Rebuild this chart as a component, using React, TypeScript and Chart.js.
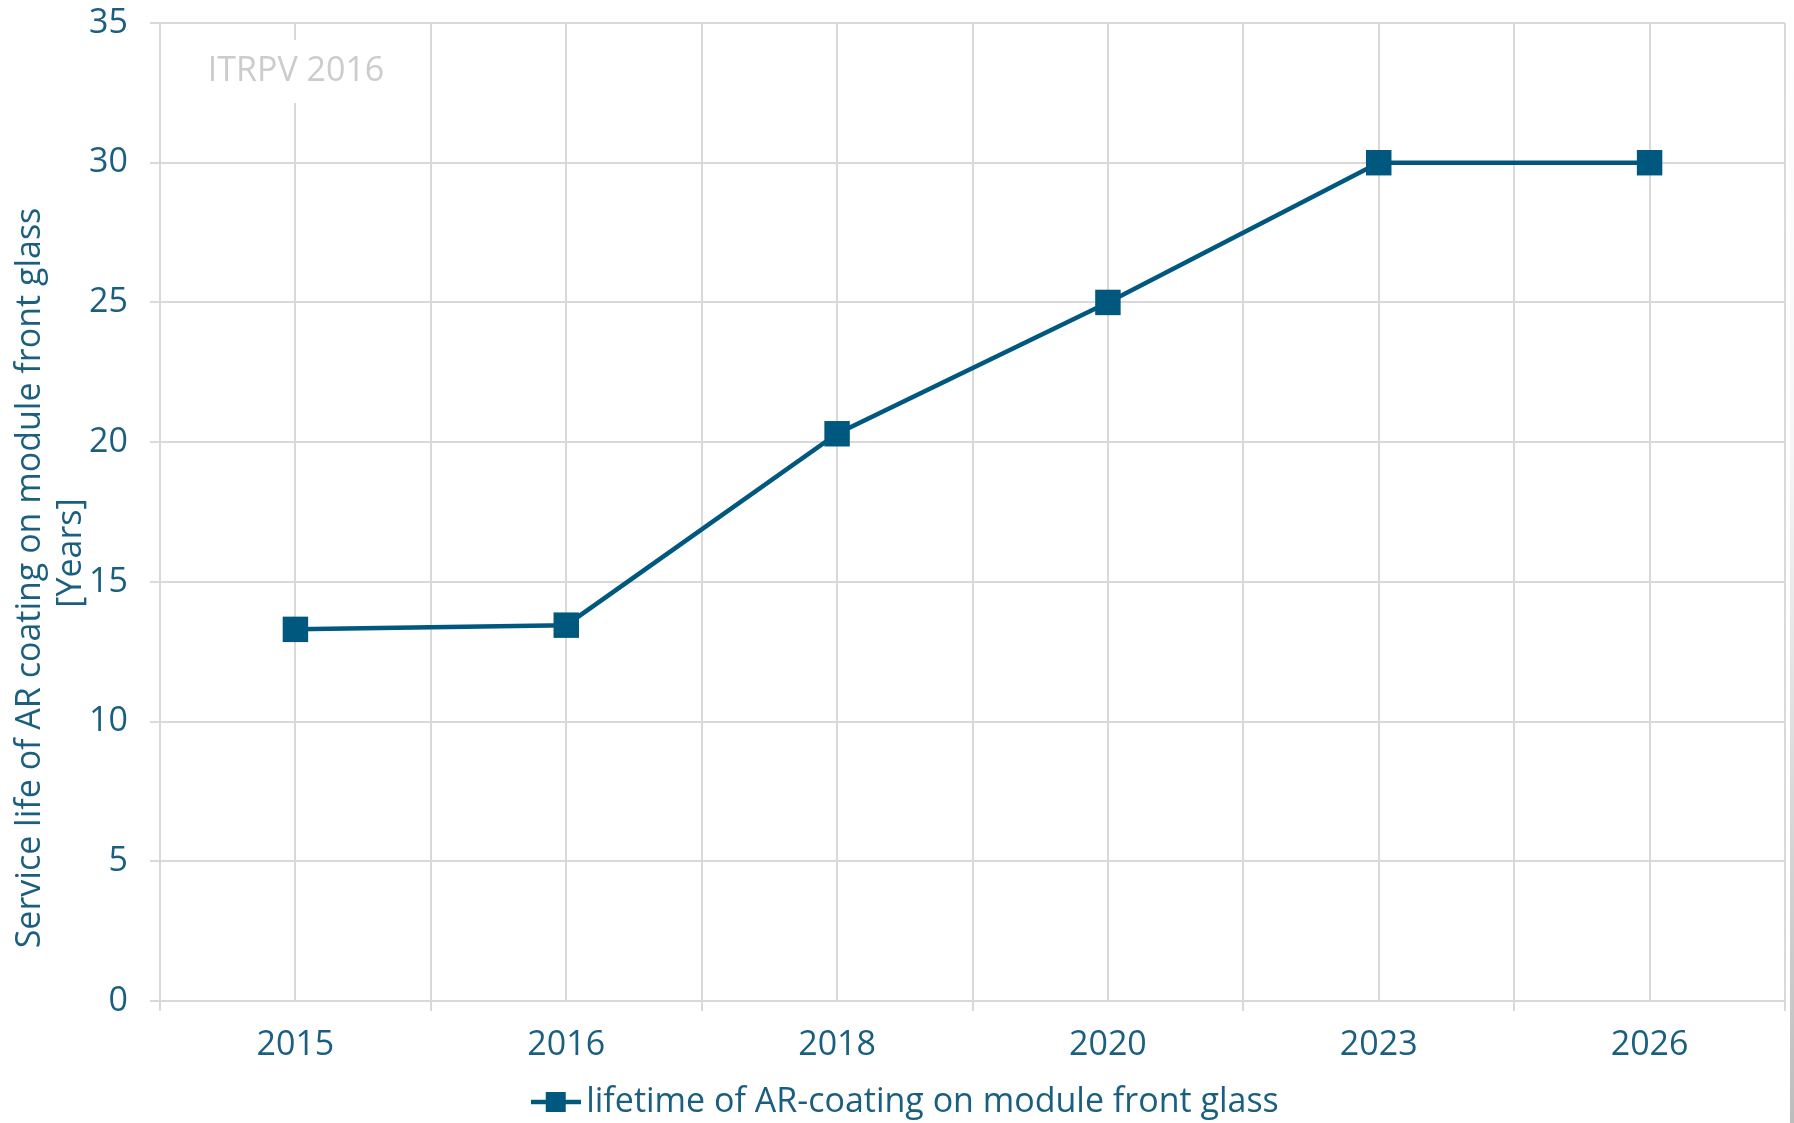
import React, { useEffect, useRef } from "react";
import { Chart, registerables } from "chart.js";

Chart.register(...registerables);

const categories: string[] = ["2015", "2016", "2018", "2020", "2023", "2026"];
const lifetimeValues: number[] = [13.3, 13.45, 20.3, 25.0, 30.0, 30.0];
const seriesLabel = "lifetime of AR-coating on module front glass";
const yTitleLines: string[] = ["Service life of AR coating on module front glass", "[Years]"];
const watermarkText = "ITRPV 2016";

const FONT = "'Open Sans', 'Noto Sans', sans-serif";
const TEXT_COLOR = "#1a5f80";
const LINE_COLOR = "#00587f";
const GRID_COLOR = "#d9d9d9";

const CANVAS_W = 1803;
const CANVAS_H = 1129;

function makeLegendIcon(): HTMLCanvasElement {
  const c = document.createElement("canvas");
  c.width = 50;
  c.height = 22;
  const g = c.getContext("2d")!;
  g.strokeStyle = LINE_COLOR;
  g.lineWidth = 4.5;
  g.beginPath();
  g.moveTo(0, 11);
  g.lineTo(50, 11);
  g.stroke();
  g.fillStyle = LINE_COLOR;
  g.fillRect(15, 1, 20, 20);
  return c;
}

const overlayPlugin = {
  id: "overlayTexts",
  beforeDatasetsDraw(chart: any) {
    const ctx = chart.ctx as CanvasRenderingContext2D;
    ctx.save();
    ctx.font = `34px ${FONT}`;
    const w = ctx.measureText(watermarkText).width;
    const cx = 296;
    const cy = 71;
    ctx.fillStyle = "#ffffff";
    ctx.fillRect(cx - w / 2 - 4, 40, w + 8, 63);
    ctx.fillStyle = "#cccccc";
    ctx.textAlign = "center";
    ctx.textBaseline = "middle";
    ctx.fillText(watermarkText, cx, cy);
    ctx.restore();
  },
  afterDraw(chart: any) {
    const ctx = chart.ctx as CanvasRenderingContext2D;
    ctx.save();
    ctx.font = `34px ${FONT}`;
    ctx.fillStyle = TEXT_COLOR;
    ctx.textAlign = "center";
    ctx.textBaseline = "middle";
    const pos = [
      { x: 30, y: 578 },
      { x: 71, y: 553 },
    ];
    yTitleLines.forEach((t, i) => {
      ctx.save();
      ctx.translate(pos[i].x, pos[i].y);
      ctx.rotate(-Math.PI / 2);
      ctx.fillText(t, 0, 0);
      ctx.restore();
    });
    ctx.restore();
  },
};

export default function App() {
  const ref = useRef<HTMLCanvasElement | null>(null);

  useEffect(() => {
    if (!ref.current) return;
    const chart = new Chart(ref.current, {
      type: "line",
      data: {
        datasets: [
          {
            label: seriesLabel,
            data: lifetimeValues.map((v, i) => ({ x: i, y: v })),
            borderColor: LINE_COLOR,
            backgroundColor: LINE_COLOR,
            borderWidth: 4.5,
            pointStyle: "rect",
            pointRadius: 18,
            pointHoverRadius: 18,
            pointBackgroundColor: LINE_COLOR,
            pointBorderWidth: 0,
            tension: 0,
          },
        ],
      },
      options: {
        animation: false,
        responsive: false,
        maintainAspectRatio: false,
        devicePixelRatio: 1,
        layout: { padding: { left: 18, right: 0, top: 23, bottom: 0 } },
        plugins: {
          tooltip: { enabled: false },
          legend: {
            position: "bottom",
            labels: {
              usePointStyle: true,
              pointStyle: makeLegendIcon() as any,
              pointStyleWidth: 27,
              padding: 4,
              color: TEXT_COLOR,
              font: { family: FONT, size: 34 },
            },
          },
        },
        scales: {
          x: {
            type: "linear",
            min: -0.5,
            max: 5.5,
            afterFit: (s: any) => {
              s.height = 80;
              s.paddingLeft = 0;
              s.paddingRight = 0;
            },
            ticks: {
              stepSize: 0.5,
              autoSkip: false,
              maxRotation: 0,
              padding: 14,
              color: TEXT_COLOR,
              font: { family: FONT, size: 34 },
              callback: (v: any) => {
                const n = Number(v);
                return Number.isInteger(n) ? categories[n] ?? "" : "";
              },
            },
            grid: {
              color: GRID_COLOR,
              lineWidth: 2,
              tickLength: 10,
              tickColor: (c: any) =>
                c.tick && !Number.isInteger(Number(c.tick.value)) ? GRID_COLOR : "rgba(0,0,0,0)",
            },
            border: { color: GRID_COLOR, width: 2 },
          },
          y: {
            min: 0,
            max: 35,
            afterFit: (s: any) => {
              s.width = 142;
              s.paddingTop = 0;
              s.paddingBottom = 0;
            },
            ticks: {
              stepSize: 5,
              padding: 22,
              color: TEXT_COLOR,
              font: { family: FONT, size: 34 },
            },
            grid: {
              color: GRID_COLOR,
              lineWidth: 2,
              tickLength: 10,
              tickColor: GRID_COLOR,
            },
            border: { color: GRID_COLOR, width: 2 },
          },
        },
      },
      plugins: [overlayPlugin],
    });
    return () => chart.destroy();
  }, []);

  return (
    <div
      style={{
        position: "fixed",
        left: 0,
        top: 0,
        width: 1794,
        height: 1123,
        overflow: "hidden",
        background: "#ffffff",
      }}
    >
      <canvas
        ref={ref}
        width={CANVAS_W}
        height={CANVAS_H}
        style={{ display: "block", width: CANVAS_W, height: CANVAS_H }}
      />
      <div
        style={{
          position: "absolute",
          left: 1790,
          top: 0,
          width: 4,
          height: 1123,
          background: "linear-gradient(to bottom, #ffffff 0%, #f6f6f6 40%, #bdbdbd 100%)",
        }}
      />
    </div>
  );
}
